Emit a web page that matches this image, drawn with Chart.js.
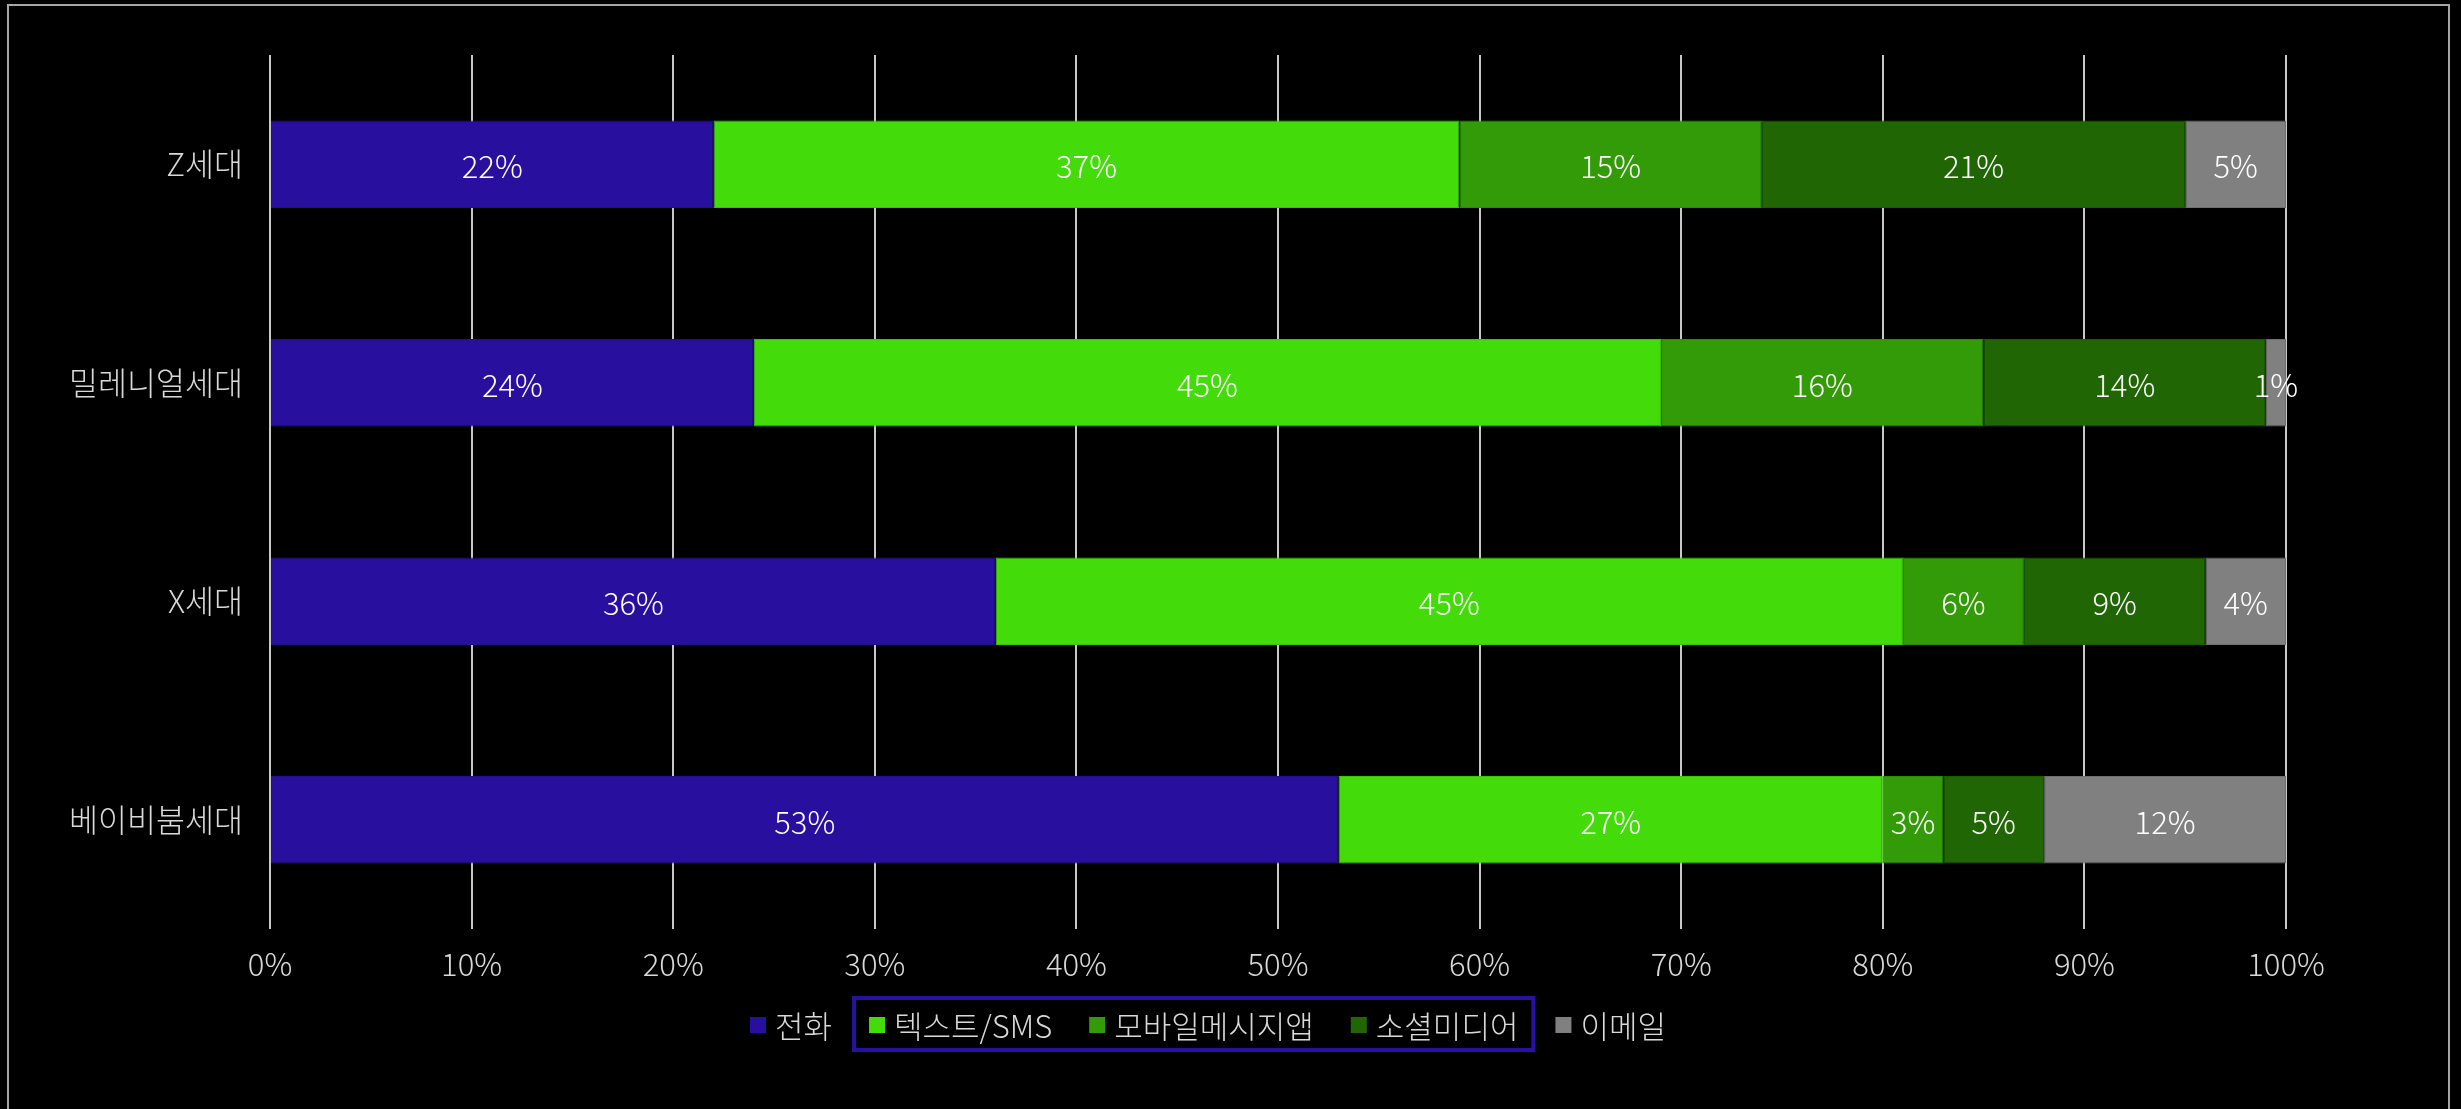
<!DOCTYPE html>
<html>
<head>
<meta charset="utf-8">
<script src="https://cdn.jsdelivr.net/npm/chart.js@4/dist/chart.umd.min.js"></script>
<style>
  html, body { margin: 0; padding: 0; background: #000; overflow: hidden; }
  #wrap { position: relative; width: 2461px; height: 1109px; }
  #frame { position: absolute; left: 7px; top: 4px; width: 2439px; height: 1200px; border: 2px solid #a6a6a6; pointer-events: none; }
</style>
</head>
<body>
<div id="wrap">
  <canvas id="graficoCanais" width="2461" height="1109"></canvas>
  <div id="frame"></div>
</div>
<script>
const generations = ['Z세대', '밀레니얼세대', 'X세대', '베이비붐세대']
const channels = ['전화', '텍스트/SMS', '모바일메시지앱', '소셜미디어', '이메일']
const phone = [22, 24, 36, 53]
const textSms = [37, 45, 45, 27]
const messengerApp = [15, 16, 6, 3]
const socialMedia = [21, 14, 9, 5]
const email = [5, 1, 4, 12]

const fills = ['#280f9e', '#43dc0a', '#339b07', '#216604', '#808080']
const edges = ['#22108a', '#3bc408', '#2c8a06', '#1c5a03', '#6e6e6e']

const FONT = '"Noto Sans CJK KR", "Noto Sans", sans-serif'
const graph = document.querySelector('#graficoCanais')

// percentage written in the middle of every segment
const segmentLabels = {
  id: 'segmentLabels',
  afterDatasetsDraw(chart) {
    const ctx = chart.ctx
    ctx.save()
    ctx.font = '300 31px ' + FONT
    ctx.fillStyle = '#ffffff'
    ctx.textAlign = 'center'
    ctx.textBaseline = 'middle'
    chart.data.datasets.forEach((dataset, i) => {
      chart.getDatasetMeta(i).data.forEach((bar, j) => {
        const p = bar.getProps(['x', 'y', 'base'], true)
        ctx.fillText(dataset.data[j] + '%', (p.x + p.base) / 2, p.y + 2)
      })
    })
    ctx.restore()
  }
}

// legend row under the axis, with the box around the three middle entries
const legendRow = {
  id: 'legendRow',
  afterDraw(chart) {
    const ctx = chart.ctx
    const box = 16, gap = 9, spacing = 37
    const centerX = 1208, centerY = 1025
    ctx.save()
    ctx.font = '300 31px ' + FONT
    ctx.textBaseline = 'middle'
    const sets = chart.data.datasets
    const widths = sets.map(ds => ctx.measureText(ds.label).width)
    const total = widths.reduce((a, w) => a + box + gap + w, 0) + spacing * (sets.length - 1)
    let x = centerX - total / 2
    const spans = []
    sets.forEach((ds, i) => {
      ctx.fillStyle = ds.backgroundColor
      ctx.fillRect(x, centerY - box / 2, box, box)
      ctx.fillStyle = '#d9d9d9'
      ctx.fillText(ds.label, x + box + gap, centerY + 1)
      spans.push([x, x + box + gap + widths[i]])
      x += box + gap + widths[i] + spacing
    })
    ctx.strokeStyle = '#2a10a0'
    ctx.lineWidth = 4
    ctx.strokeRect(spans[1][0] - 15, centerY - 27, spans[3][1] - spans[1][0] + 30, 52)
    ctx.restore()
  }
}

const series = [phone, textSms, messengerApp, socialMedia, email]

const graphCanais = new Chart(graph, {
  type: 'bar',
  data: {
    labels: generations,
    datasets: series.map((values, i) => ({
      label: channels[i],
      data: values,
      backgroundColor: fills[i],
      borderColor: edges[i],
      borderWidth: 1,
      borderSkipped: false,
      categoryPercentage: 1,
      barPercentage: 0.4
    }))
  },
  options: {
    indexAxis: 'y',
    responsive: false,
    animation: false,
    devicePixelRatio: 1,
    layout: { padding: { top: 55, right: 175, left: 0, bottom: 0 } },
    plugins: {
      legend: { display: false },
      tooltip: { enabled: false }
    },
    scales: {
      x: {
        stacked: true,
        min: 0,
        max: 100,
        afterFit(scale) { scale.height = 180 },
        grid: { color: '#c8c8c8', lineWidth: 2, drawTicks: false },
        border: { display: false },
        ticks: {
          stepSize: 10,
          padding: 17,
          color: '#d9d9d9',
          font: { family: FONT, size: 31, weight: 300 },
          callback: v => v + '%'
        }
      },
      y: {
        stacked: true,
        afterFit(scale) { scale.width = 270 },
        grid: { display: false, drawTicks: false },
        border: { display: false },
        ticks: {
          padding: 27,
          color: '#d9d9d9',
          font: { family: FONT, size: 31.5, weight: 300 }
        }
      }
    }
  },
  plugins: [segmentLabels, legendRow]
})
</script>
</body>
</html>
